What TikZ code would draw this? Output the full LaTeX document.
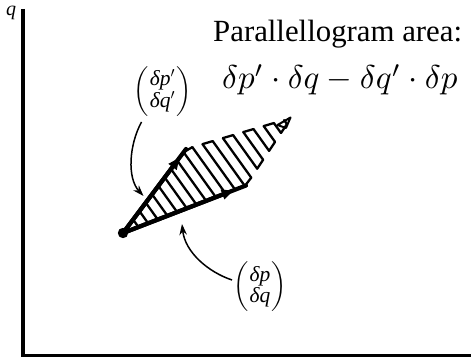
\documentclass[tikz,border=0pt]{standalone}
\usepackage{amsmath}
\usepackage{graphicx}
\usepackage{fontspec}
\setmainfont{Liberation Serif}
\usetikzlibrary{arrows.meta,calc}
\newcommand{\colvec}[2]{$\renewcommand{\arraystretch}{0.8}\left(\begin{array}{@{\hspace{1pt}}c@{\hspace{1pt}}}\text{#1}\\ \text{#2}\end{array}\right)$}
\begin{document}
\begin{tikzpicture}[x=1pt,y=-1pt,
  axis/.style={line width=3.8pt},
  vec/.style={line width=4.2pt,line cap=round},
  hatchline/.style={line width=2.3pt,line join=round,line cap=round},
  thinarrow/.style={line width=1.5pt,-{Stealth[length=11pt,width=7.5pt]}},
  lbl/.style={inner sep=0pt,font=\fontsize{21.5}{25}\selectfont}]
\useasboundingbox (0,0) rectangle (471,363);
% axes
\coordinate (ytop) at (23,9);
\coordinate (orig) at (23,355.5);
\coordinate (xend) at (471,355.5);
\draw[axis] (ytop) -- (orig) -- (xend);
\node[inner sep=0pt,font=\fontsize{20}{24}\selectfont\itshape] (qlab) at (11,13) {q};
% parallelogram corners
\coordinate (O) at (123,233);
\coordinate (A) at (246,185.5);
\coordinate (B) at (186,149);
\coordinate (C) at (291,118);
% hatching end points (offset s measured across the hatching direction)
\foreach \i in {1,...,20}{
  \pgfmathsetmacro\s{10*\i-4}
  \pgfmathtruncatemacro\up{\s<99.8}
  \pgfmathtruncatemacro\lo{\s<127.2}
  \ifnum\up=1
    \pgfmathsetmacro\ft{\s/99.8}
    \coordinate (t\i) at ($(O)!\ft!(B)$);
  \else
    \pgfmathsetmacro\ft{(\s-99.8)/103}
    \coordinate (t\i) at ($(B)!\ft!(C)$);
  \fi
  \ifnum\lo=1
    \pgfmathsetmacro\fb{\s/127.2}
    \coordinate (b\i) at ($(O)!\fb!(A)$);
  \else
    \pgfmathsetmacro\fb{(\s-127.2)/75.6}
    \coordinate (b\i) at ($(A)!\fb!(C)$);
  \fi
}
\foreach \i in {1,...,20}{
  \draw[hatchline] (t\i) -- (b\i);
}
\foreach \i in {1,3,...,19}{
  \pgfmathtruncatemacro\j{\i+1}
  \draw[hatchline] (b\i) -- (b\j);
}
\foreach \i in {2,4,...,18}{
  \pgfmathtruncatemacro\j{\i+1}
  \draw[hatchline] (t\i) -- (t\j);
}
% small open triangle at the far corner
\draw[line width=2pt,line join=round] (277.5,125) -- (290.5,117.5) -- (286,128) -- cycle;
% vectors
\draw[vec] (O) -- (A);
\draw[vec] (O) -- (B);
\draw[vec,-{Triangle[length=12pt,width=9.5pt]}] (O) -- ($(O)!0.9!(A)$);
\draw[vec,-{Triangle[length=12pt,width=9.5pt]}] (O) -- ($(O)!0.9!(B)$);
\fill (O) circle (5.2);
% labels
\node[lbl] (v2) at (162.5,91.5) {\colvec{\itshape δp$'$}{\itshape δq$'$}};
\node[lbl] (v1) at (260,287) {\colvec{\itshape δp}{\itshape δq}};
\coordinate (e2) at (143.5,196);
\coordinate (e1) at (182,224);
\draw[thinarrow] (141.5,122) .. controls (129,145) and (127,178) .. (e2);
\draw[thinarrow] (232,280) .. controls (208,272) and (185,252) .. (e1);
% texts
\node[anchor=base west,inner sep=0pt,font=\fontsize{30.8}{36}\selectfont] (title) at (213,42) {Parallellogram area:};
\node[anchor=base west,inner sep=0pt] (formula) at (222,89) {\scalebox{3.3}{$\delta p'\cdot\delta q-\delta q'\cdot\delta p$}};
\end{tikzpicture}
\end{document}
